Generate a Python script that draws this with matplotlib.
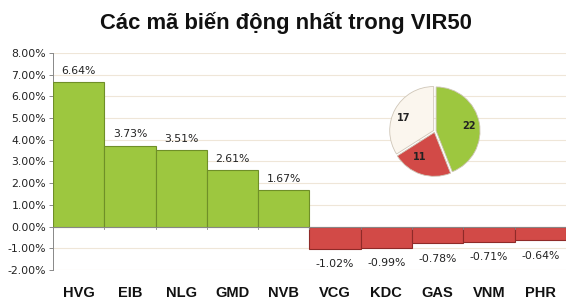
import matplotlib
matplotlib.use("Agg")
import matplotlib.pyplot as plt
import numpy as np

# data
tickers = ['HVG', 'EIB', 'NLG', 'GMD', 'NVB', 'VCG', 'KDC', 'GAS', 'VNM', 'PHR']
changes = [6.64, 3.73, 3.51, 2.61, 1.67, -1.02, -0.99, -0.78, -0.71, -0.64]
pie_counts = [22, 11, 17]
yticks = [-2, -1, 0, 1, 2, 3, 4, 5, 6, 7, 8]

green = '#9dc73f'
green_edge = '#6f8f28'
red = '#d24a47'
red_edge = '#8f2a28'

fig = plt.figure(figsize=(5.71, 3.06), dpi=100)
ax = fig.add_axes([0.093, 0.118, 0.898, 0.709])

colors = [green if v >= 0 else red for v in changes]
edges = [green_edge if v >= 0 else red_edge for v in changes]
x = np.arange(len(tickers))
ax.bar(x, changes, width=1.0, color=colors, edgecolor=edges, linewidth=0.8, zorder=3)

for xi, v in zip(x, changes):
    if v >= 0:
        ax.annotate('%.2f%%' % v, (xi, v), xytext=(0, 8), textcoords='offset points',
                    ha='center', va='center', fontsize=7.8, color='#222222')
    else:
        ax.annotate('%.2f%%' % v, (xi, v), xytext=(0, -11), textcoords='offset points',
                    ha='center', va='center', fontsize=7.8, color='#222222')

ax.set_xlim(-0.5, len(tickers) - 0.5)
ax.set_ylim(-2, 8)
ax.set_yticks(yticks)
ax.set_yticklabels(['%.2f%%' % t for t in yticks], fontsize=7.8, color='#222222')
ax.yaxis.grid(True, color='#efe6d8', linewidth=0.8, zorder=0)
ax.tick_params(axis='y', length=3, width=0.6, color='#777777', pad=2)

for s in ['top', 'right', 'bottom']:
    ax.spines[s].set_visible(False)
ax.spines['left'].set_color('#888888')
ax.spines['left'].set_linewidth(0.7)

ax.axhline(0, color='#888888', linewidth=0.7, zorder=4)
ax.set_xticks([])
for xb in np.arange(0.5, len(tickers) - 0.5, 1.0):
    ax.plot([xb, xb], [0, -0.12], color='#888888', linewidth=0.6, zorder=4, clip_on=False)
for xi, t in zip(x, tickers):
    ax.text(xi, -3.05, t, ha='center', va='center', fontsize=10.5, fontweight='bold',
            family='Liberation Sans', color='#111111')

fig.text(0.5, 0.925, 'Các mã biến động nhất trong VIR50', ha='center', va='center',
         fontsize=15.8, fontweight='bold', family='Liberation Sans', color='#111111')

# pie
pax = fig.add_axes([0.665, 0.392, 0.193, 0.359])
wedges, texts = pax.pie(pie_counts, colors=[green, red, '#fbf6ee'], startangle=90,
                        counterclock=False, explode=[0.03, 0.03, 0.03],
                        wedgeprops=dict(edgecolor='#cfc6b8', linewidth=0.6),
                        labels=[str(c) for c in pie_counts], labeldistance=0.6,
                        textprops=dict(fontsize=7, fontweight='bold', color='#222222'))
pax.set_aspect('equal')

fig.savefig('out.png', dpi=100)
